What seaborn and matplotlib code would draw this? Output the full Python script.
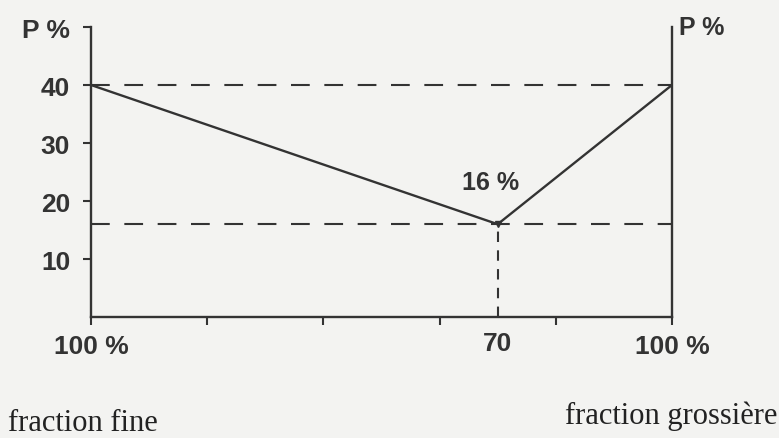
import matplotlib
matplotlib.use("Agg")
import matplotlib.pyplot as plt
import seaborn as sns
import pandas as pd

# Percentage of coarse fraction in the mix (0 = all fine, 100 = all coarse)
fraction_grossiere = [0, 70, 100]
# Porosity P % of the mix
porosite = [40, 16, 40]
niveau_haut = 40
niveau_min = 16
abscisse_min = 70
label_min = "16 %"

x_ticks = [0, 20, 40, 60, 80, 100]
x_labels = ["100 %", "", "", "", "", "100 %"]
y_ticks = [10, 20, 30, 40, 50]
y_labels = ["10", "20", "30", "40", "P %"]

sns.set_style("ticks")
ink = "#333333"
paper = "#f3f3f1"
label_font = ["Liberation Sans", "DejaVu Sans"]
serif_font = ["Liberation Serif", "DejaVu Serif"]

fig = plt.figure(figsize=(7.79, 4.39), dpi=100, facecolor=paper)
ax = fig.add_axes([91 / 779, 1 - 318 / 439, (672 - 91) / 779, 290 / 439])
ax.set_facecolor(paper)

df = pd.DataFrame({"fraction": fraction_grossiere, "P": porosite})
sns.lineplot(data=df, x="fraction", y="P", color=ink, lw=1.7, ax=ax)
ax.plot([abscisse_min], [niveau_min], marker="v", ms=5, color=ink, zorder=4)

# reference levels
ax.axhline(niveau_haut, color=ink, lw=1.5, dashes=(9, 7), zorder=1)
ax.axhline(niveau_min, color=ink, lw=1.5, dashes=(9, 7), zorder=1)
ax.vlines(abscisse_min, 0, niveau_min, color=ink, lw=1.5,
          linestyles=(0, (5, 4)), zorder=1)

ax.set_xlim(0, 100)
ax.set_ylim(0, 50)
ax.set_xlabel("")
ax.set_ylabel("")

for side in ("left", "bottom", "right"):
    ax.spines[side].set_color(ink)
    ax.spines[side].set_linewidth(1.7)
ax.spines["top"].set_visible(False)

ax.set_xticks(x_ticks)
ax.set_xticklabels(x_labels)
ax.set_xticks([abscisse_min], minor=True)
ax.set_xticklabels([str(abscisse_min)], minor=True)
ax.set_yticks(y_ticks)
ax.set_yticklabels(y_labels)
ax.tick_params(axis="x", which="major", direction="out", length=6, width=1.5,
               color=ink, pad=6)
ax.tick_params(axis="x", which="minor", length=0, pad=10)
ax.tick_params(axis="y", direction="out", length=6, width=1.5, color=ink, pad=9)

for lab in ax.get_xticklabels(which="both") + ax.get_yticklabels():
    lab.set_fontfamily(label_font)
    lab.set_fontweight("bold")
    lab.set_fontsize(19)
    lab.set_color(ink)

ax.annotate(label_min, xy=(abscisse_min, niveau_min), xytext=(-5, 22),
            textcoords="offset points", ha="center", va="bottom",
            fontsize=18, fontweight="bold", family=label_font, color=ink)

ax.annotate("P %", xy=(1, 1), xycoords="axes fraction", xytext=(5, 0),
            textcoords="offset points", ha="left", va="center",
            fontsize=18, fontweight="bold", family=label_font, color=ink)

fig.text(8 / 779, 1 - 431 / 439, "fraction fine", family=serif_font,
         fontsize=22, color="#222222", ha="left", va="baseline")
fig.text(777 / 779, 1 - 424 / 439, "fraction grossière", family=serif_font,
         fontsize=22, color="#222222", ha="right", va="baseline")

fig.savefig("out.png", dpi=100, facecolor=paper)
